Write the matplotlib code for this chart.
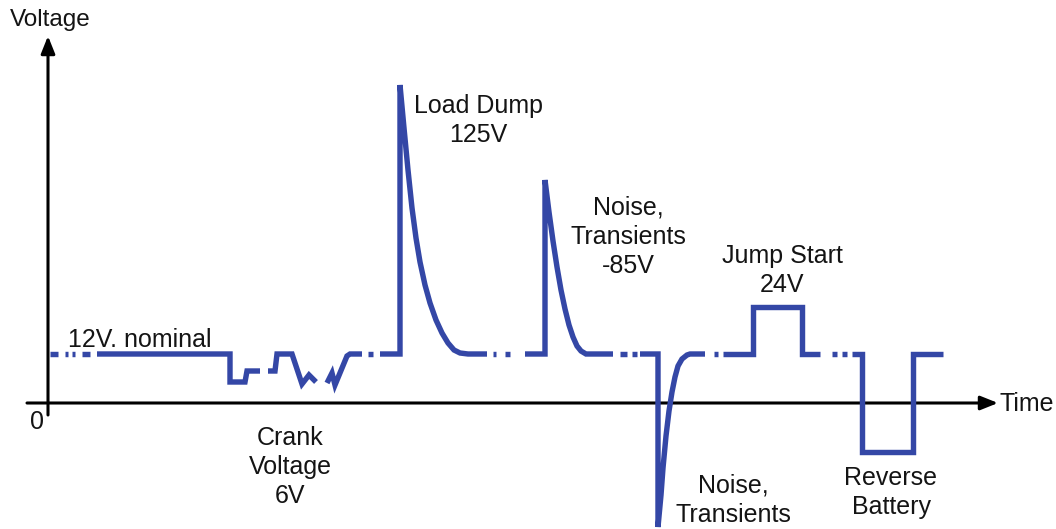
import matplotlib.pyplot as plt

plt.rcParams['font.family'] = ['Liberation Sans', 'DejaVu Sans']

BLUE = '#3447a6'
INK = '#141414'

# waveform pieces, time (along the axis) and voltage (above the 0 line)
crank1_t = [97, 230, 230, 245, 247, 260]
crank1_v = [49, 49, 21, 21, 32, 32]
crank2_t = [268, 275, 277, 292, 302, 309, 316]
crank2_v = [32, 32, 49, 49, 19, 28, 21]
crank3_t = [327, 332, 335, 347, 350, 362]
crank3_v = [20, 30, 18, 47, 49, 49]
dump_t = [380, 400, 400, 404, 408, 412, 416, 420, 425, 430, 436, 442, 448, 454, 460, 468, 487]
dump_v = [49, 49, 318, 275, 233, 195, 165, 141, 118, 100, 83, 70, 60, 53, 50, 49, 49]
noise_t = [525, 545, 545, 549, 553, 557, 561, 565, 569, 573, 577, 581, 586, 613]
noise_v = [49, 49, 223, 191, 162, 136, 113, 94, 78, 66, 57, 52, 49, 49]
neg_t = [640, 658, 658, 661, 663, 666, 669, 672, 675, 678, 682, 687, 690, 705]
neg_v = [49, 49, -124, -92, -65, -33, -8, 11, 26, 37, 44, 48, 49, 49]
jump_t = [723, 753, 753, 802, 802, 820]
jump_v = [49, 49, 96, 96, 49, 49]
rev_t = [852, 862, 862, 913, 913, 943]
rev_v = [49, 49, -49, -49, 49, 49]

# short dashes at the nominal level between the pieces
dash_start = [50, 65, 72, 82, 368, 493, 505, 620, 632, 714, 832, 842]
dash_end = [58, 68, 75, 90, 373, 496, 510, 627, 637, 718, 837, 847]
nominal = 49

# labels: lines, centre time, baseline voltage of first line
labels = [
    (['Load Dump', '125V'], 478, 290),
    (['Noise,', 'Transients', '-85V'], 628, 188),
    (['Jump Start', '24V'], 782, 140),
    (['Crank', 'Voltage', '6V'], 290, -42),
    (['Noise,', 'Transients'], 733, -90),
    (['Reverse', 'Battery'], 891, -82),
]
line_gap = 29

fig = plt.figure(figsize=(10.56, 5.29), dpi=100)
ax = fig.add_axes([0, 0, 1, 1])
ax.set_xlim(0, 1056)
ax.set_ylim(-126, 403)
ax.axis('off')

# axes with arrows
arrow = dict(arrowstyle='-|>,head_length=1.05,head_width=0.42', lw=2.2,
             color='black', shrinkA=0, shrinkB=0, mutation_scale=10)
ax.annotate('', xy=(48, 367), xytext=(48, -12), arrowprops=arrow)
ax.annotate('', xy=(998, 0), xytext=(27, 0), arrowprops=arrow)

pieces = [(crank1_t, crank1_v), (crank2_t, crank2_v), (crank3_t, crank3_v),
          (dump_t, dump_v), (noise_t, noise_v), (neg_t, neg_v),
          (jump_t, jump_v), (rev_t, rev_v)]
for t, v in pieces:
    ax.plot(t, v, color=BLUE, lw=3.9, solid_joinstyle='miter',
            solid_capstyle='butt', zorder=3)

for a, b in zip(dash_start, dash_end):
    ax.plot([a, b], [nominal, nominal], color=BLUE, lw=3.9,
            solid_capstyle='butt', zorder=3)

ax.text(68, 56, '12V. nominal', fontsize=18, color=INK, ha='left', va='baseline')
ax.text(50, 377, 'Voltage', fontsize=17.5, color=INK, ha='center', va='baseline')
ax.text(37, -19, '0', fontsize=18, color=INK, ha='center', va='center')
ax.text(1000, -1, 'Time', fontsize=18, color=INK, ha='left', va='center')

for lines, x, y in labels:
    for i, s in enumerate(lines):
        ax.text(x, y - i * line_gap, s, fontsize=18, color=INK,
                ha='center', va='baseline')

fig.savefig('out.png', dpi=100)
